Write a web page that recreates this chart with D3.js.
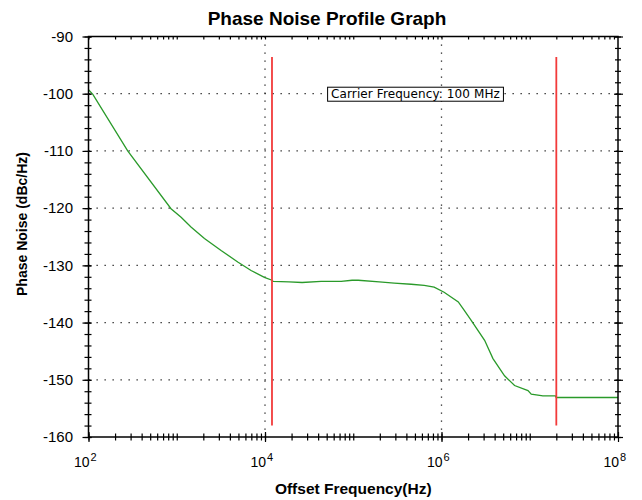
<!DOCTYPE html>
<html>
<head>
<meta charset="utf-8">
<script src="https://cdn.jsdelivr.net/npm/d3@7"></script>
<style>
body { margin: 0; background: #fff; }
text { font-family: "Liberation Sans", Arial, sans-serif; fill: #000; }
</style>
</head>
<body>
<div id="chart-area"></div>
<script>
// Phase noise trace
var freqs = [100, 112, 278, 861, 1120, 1450, 2060, 3180, 4910, 6950,
    9840, 12000, 12400, 18700, 26300, 43300, 73000, 97000, 114000, 197000,
    291000, 453000, 637000, 826000, 1070000, 1550000, 1820000, 2170000, 3080000, 3830000,
    5180000, 6730000, 9550000, 10400000, 14100000, 19500000, 20000000, 100000000];
var noise = [-99.3, -100.1, -110.0, -120.1, -121.6, -123.3, -125.3, -127.4, -129.4, -130.9,
    -132.1, -132.6, -132.8, -132.9, -133.0, -132.8, -132.8, -132.6, -132.6, -132.9,
    -133.1, -133.3, -133.5, -133.8, -134.7, -136.4, -137.9, -139.6, -143.1, -146.3,
    -149.3, -151.0, -151.9, -152.5, -152.8, -152.8, -153.1, -153.1];

// integration limit markers (Hz) and their extent (dBc/Hz)
var markerFreqs = [12000, 20000000];
var markerSpan = [-93.6, -158.0];

// axis ticks
var xExponents = [2, 4, 6, 8];
var yTicks = [-160, -150, -140, -130, -120, -110, -100, -90];
var yGrid = [-150, -140, -130, -120, -110, -100];
var xGridExponents = [4, 6];

var carrierLabel = 'Carrier Frequency: 100 MHz';

var margin = { top: 36.5, right: 24, bottom: 63, left: 88.5 };
var width = 642 - margin.left - margin.right;
var height = 500 - margin.top - margin.bottom;

var svg = d3.select('#chart-area')
    .append('svg')
        .attr('width', 642)
        .attr('height', 500);

var g = svg.append('g')
    .attr('transform', 'translate(' + margin.left + ',' + margin.top + ')');

var x = d3.scaleLog()
    .domain([1e2, 1e8])
    .range([0, width]);

var y = d3.scaleLinear()
    .domain([-160, -90])
    .range([height, 0]);

var xMajor = xExponents.map(function (e) { return Math.pow(10, e) });
var xMinor = [];
for (var e = 2; e < 8; e++) {
    for (var k = 1; k < 10; k++) xMinor.push(k * Math.pow(10, e));
}
var yMinor = d3.range(-160, -89, 2);

// dotted grid
g.selectAll('.hgrid').data(yGrid)
    .enter().append('line')
        .attr('class', 'hgrid')
        .attr('x1', 0).attr('x2', width)
        .attr('y1', function (d) { return y(d) })
        .attr('y2', function (d) { return y(d) })
        .attr('stroke', '#222')
        .attr('stroke-width', 1.3)
        .attr('stroke-dasharray', '1.3,6.7');

g.selectAll('.vgrid').data(xGridExponents)
    .enter().append('line')
        .attr('class', 'vgrid')
        .attr('x1', function (d) { return x(Math.pow(10, d)) })
        .attr('x2', function (d) { return x(Math.pow(10, d)) })
        .attr('y1', 0).attr('y2', height)
        .attr('stroke', '#222')
        .attr('stroke-width', 1.3)
        .attr('stroke-dasharray', '1.3,6.7');

// carrier label box
var note = g.append('g')
    .attr('transform', 'translate(' + (width * 0.6176) + ',' + y(-100) + ')');
var noteText = note.append('text')
    .attr('text-anchor', 'middle')
    .attr('y', 4.5)
    .style('font-family', '"DejaVu Sans", sans-serif')
    .attr('font-size', '12px')
    .attr('letter-spacing', '0.1px')
    .text(carrierLabel);
var bb = noteText.node().getBBox();
note.insert('rect', 'text')
    .attr('x', bb.x - 3.5)
    .attr('y', -6.5)
    .attr('width', bb.width + 7)
    .attr('height', 14)
    .attr('fill', '#fff')
    .attr('stroke', '#000')
    .attr('stroke-width', 1);

// trace
var line = d3.line()
    .x(function (d, i) { return x(freqs[i]) })
    .y(function (d) { return y(d) });

g.append('path')
    .datum(noise)
    .attr('fill', 'none')
    .attr('stroke', '#2a9a2a')
    .attr('stroke-width', 1.3)
    .attr('d', line);

// red markers
g.selectAll('.marker').data(markerFreqs)
    .enter().append('line')
        .attr('class', 'marker')
        .attr('x1', function (d) { return x(d) })
        .attr('x2', function (d) { return x(d) })
        .attr('y1', y(markerSpan[0]))
        .attr('y2', y(markerSpan[1]))
        .attr('stroke', '#f23a3a')
        .attr('stroke-width', 1.8);

// frame
g.append('rect')
    .attr('width', width)
    .attr('height', height)
    .attr('fill', 'none')
    .attr('stroke', '#000')
    .attr('stroke-width', 1.5);

function stripDomain(sel) { sel.select('.domain').remove() }

// bottom axis
g.append('g')
    .attr('transform', 'translate(0,' + height + ')')
    .call(d3.axisBottom(x).tickValues(xMinor).tickFormat('').tickSize(3.5))
    .call(stripDomain)
    .selectAll('.tick line').attr('y1', -3.5).attr('stroke-width', 1.2);

var bottomMajor = g.append('g')
    .attr('transform', 'translate(0,' + height + ')')
    .call(d3.axisBottom(x).tickValues(xMajor).tickFormat(function () { return '10' }).tickSize(5))
    .call(stripDomain);
bottomMajor.selectAll('.tick line').attr('y1', -5).attr('stroke-width', 1.2);
bottomMajor.selectAll('.tick text')
    .attr('x', 0.5)
    .attr('y', 30)
    .attr('dy', null)
    .attr('text-anchor', 'end')
    .attr('font-size', '14px');
bottomMajor.selectAll('.tick').append('text')
    .attr('x', 1.5)
    .attr('y', 24)
    .attr('text-anchor', 'start')
    .attr('font-size', '11px')
    .attr('fill', '#000')
    .text(function (d) { return Math.round(Math.log10(d)) });

// top axis
g.append('g')
    .call(d3.axisTop(x).tickValues(xMinor).tickFormat('').tickSize(0))
    .call(stripDomain)
    .selectAll('.tick line').attr('y1', 0).attr('y2', 3).attr('stroke-width', 1.2);

// left axis
g.append('g')
    .call(d3.axisLeft(y).tickValues(yMinor).tickFormat('').tickSize(4))
    .call(stripDomain)
    .selectAll('.tick line').attr('x2', 3).attr('x1', -4).attr('stroke-width', 1.2);

var leftMajor = g.append('g')
    .call(d3.axisLeft(y).tickValues(yTicks).tickSize(6)
        .tickFormat(function (d) { return String(d) }))
    .call(stripDomain);
leftMajor.selectAll('.tick line').attr('x1', -6).attr('x2', 3).attr('stroke-width', 1.2);
leftMajor.selectAll('.tick text')
    .attr('x', -15.5)
    .attr('font-size', '15px');

// right axis
g.append('g')
    .attr('transform', 'translate(' + width + ',0)')
    .call(d3.axisRight(y).tickValues(yMinor).tickFormat('').tickSize(3))
    .call(stripDomain)
    .selectAll('.tick line').attr('x1', -3).attr('stroke-width', 1.2);

g.append('g')
    .attr('transform', 'translate(' + width + ',0)')
    .call(d3.axisRight(y).tickValues(yTicks).tickFormat('').tickSize(5))
    .call(stripDomain)
    .selectAll('.tick line').attr('x1', -4).attr('stroke-width', 1.2);

// title
svg.append('text')
    .attr('x', 327)
    .attr('y', 25)
    .attr('text-anchor', 'middle')
    .attr('font-size', '19px')
    .attr('font-weight', 'bold')
    .text('Phase Noise Profile Graph');

// X axis label
svg.append('text')
    .attr('x', margin.left + width / 2)
    .attr('y', 494)
    .attr('text-anchor', 'middle')
    .attr('font-size', '15.5px')
    .attr('font-weight', 'bold')
    .text('Offset Frequency(Hz)');

// Y axis label
svg.append('text')
    .attr('transform', 'translate(27,224) rotate(-90)')
    .attr('text-anchor', 'middle')
    .attr('font-size', '14px')
    .attr('font-weight', 'bold')
    .text('Phase Noise (dBc/Hz)');
</script>
</body>
</html>
